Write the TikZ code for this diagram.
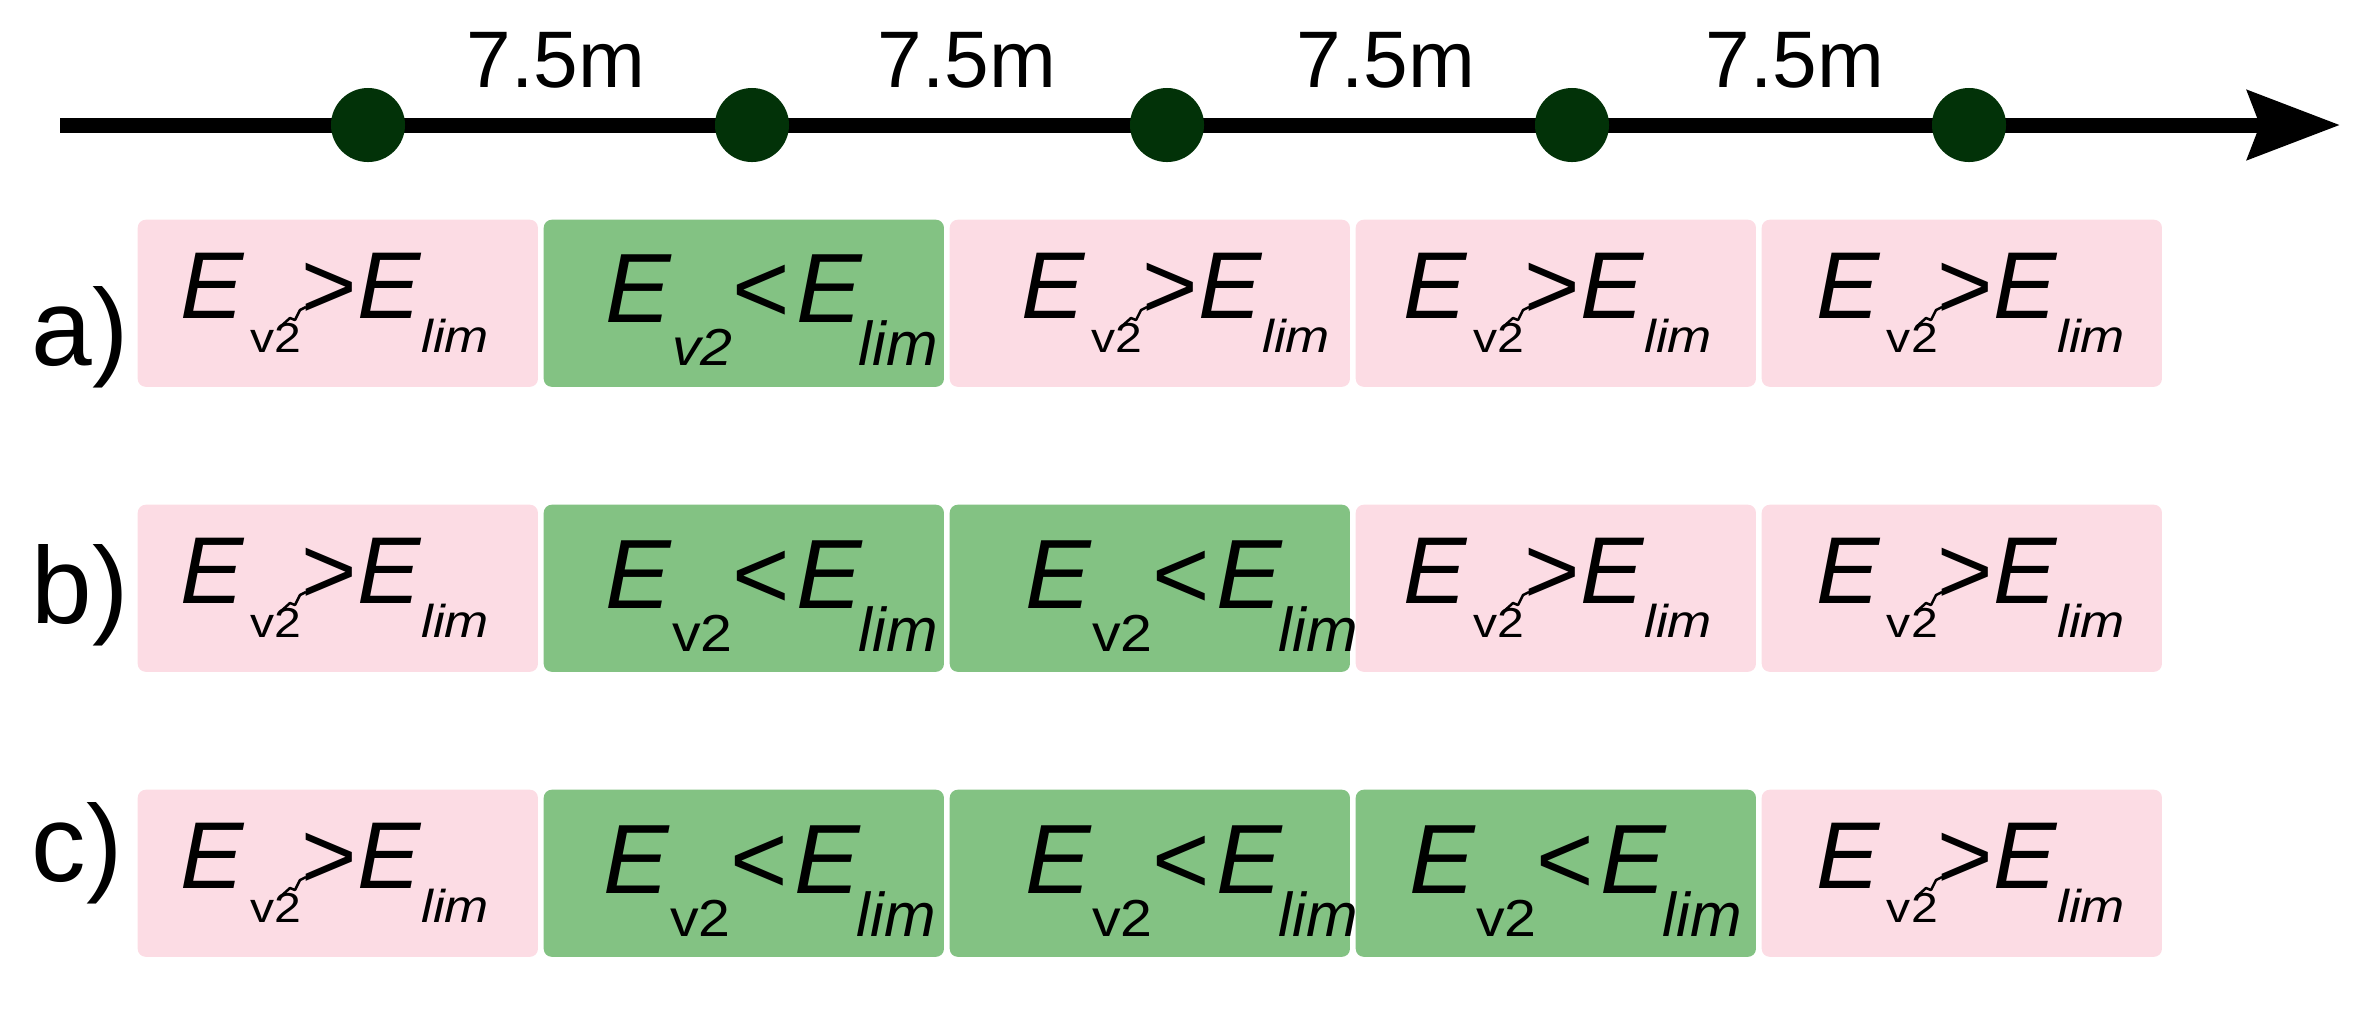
\documentclass[tikz,border=0pt]{standalone}
\usepackage{fontspec}
\setmainfont{Liberation Sans}
\usepackage{graphicx}
\usetikzlibrary{arrows.meta}
\newdimen\pxu \pxu=0.01cm
\definecolor{pinkfill}{RGB}{252,220,228}
\definecolor{greenfill}{RGB}{131,194,131}
\definecolor{dotgreen}{RGB}{2,50,8}
\newcommand\pinktxt{{\fontsize{27pt}{30pt}\selectfont
\textit{E}\kern6\pxu\raisebox{-34\pxu}{\scalebox{1.15}[1]{\fontsize{11.9pt}{13pt}\selectfont v2}}%
>\textit{E}\kern0\pxu\raisebox{-34\pxu}{\scalebox{1.15}[1]{\fontsize{13.1pt}{15pt}\selectfont\itshape lim}}}}
\newcommand\greentxt[1]{{\fontsize{28pt}{30pt}\selectfont
\textit{E}\kern-16\pxu\raisebox{-43\pxu}{\scalebox{1.1}[1]{\fontsize{14.8pt}{16pt}\selectfont#1 v2}}%
<\kern6\pxu\textit{E}\kern-4\pxu\raisebox{-43\pxu}{\fontsize{17.6pt}{19pt}\selectfont\itshape lim}}}
\newcommand\squigfor[1]{\draw[squig, shift={(#1.base west)}] (100,9) -- (110,0) -- (115,2) -- (120,-8) -- (126,-11);}
\begin{document}
\begin{tikzpicture}[x=0.01cm,y=-0.01cm,
  cellbox/.style={rectangle, rounded corners=0.08cm, minimum width=4cm, minimum height=1.67cm, inner sep=0, anchor=north west},
  pinkcell/.style={cellbox, fill=pinkfill},
  greencell/.style={cellbox, fill=greenfill},
  celltext/.style={anchor=base west, inner sep=0},
  stopdot/.style={circle, fill=dotgreen, minimum size=0.74cm, inner sep=0},
  axisline/.style={line width=0.15cm, -{Stealth[length=0.92cm,width=0.68cm,inset=0.12cm]}},
  distlabel/.style={anchor=base, inner sep=0, font=\fontsize{22.8pt}{26pt}\selectfont},
  rowlabel/.style={anchor=base west, inner sep=0, font=\fontsize{31pt}{34pt}\selectfont},
  squig/.style={line width=0.025cm, line join=round}]
\useasboundingbox (0,0) rectangle (2379,1008);
% axis
\coordinate (axs) at (60,125);
\coordinate (axe) at (2340,125);
\draw[axisline] (axs) -- (axe);
\node[stopdot] (d1) at (368,125) {};
\node[stopdot] (d2) at (752,125) {};
\node[stopdot] (d3) at (1167,125) {};
\node[stopdot] (d4) at (1572,125) {};
\node[stopdot] (d5) at (1969,125) {};
\node[distlabel] (l1) at (556,87) {7.5m};
\node[distlabel] (l2) at (967,87) {7.5m};
\node[distlabel] (l3) at (1386,87) {7.5m};
\node[distlabel] (l4) at (1795,87) {7.5m};
% row labels
\node[rowlabel] (ra) at (31,365) {a)};
\node[rowlabel] (rb) at (31,623) {b)};
\node[rowlabel] (rc) at (31,881) {c)};
% row a
\node[pinkcell] (a1) at (137,219) {};
\node[greencell] (a2) at (543,219) {};
\node[pinkcell] (a3) at (949,219) {};
\node[pinkcell] (a4) at (1355,219) {};
\node[pinkcell] (a5) at (1761,219) {};
% row b
\node[pinkcell] (b1) at (137,504) {};
\node[greencell] (b2) at (543,504) {};
\node[greencell] (b3) at (949,504) {};
\node[pinkcell] (b4) at (1355,504) {};
\node[pinkcell] (b5) at (1761,504) {};
% row c
\node[pinkcell] (c1) at (137,789) {};
\node[greencell] (c2) at (543,789) {};
\node[greencell] (c3) at (949,789) {};
\node[greencell] (c4) at (1355,789) {};
\node[pinkcell] (c5) at (1761,789) {};
% texts row a
\node[celltext] (ta1) at (180,318) {\pinktxt};
\node[celltext] (ta2) at (605,322) {\greentxt{\itshape}};
\node[celltext] (ta3) at (1021,318) {\pinktxt};
\node[celltext] (ta4) at (1403,318) {\pinktxt};
\node[celltext] (ta5) at (1816,318) {\pinktxt};
% texts row b
\node[celltext] (tb1) at (180,603) {\pinktxt};
\node[celltext] (tb2) at (605,608) {\greentxt{}};
\node[celltext] (tb3) at (1025,608) {\greentxt{}};
\node[celltext] (tb4) at (1403,603) {\pinktxt};
\node[celltext] (tb5) at (1816,603) {\pinktxt};
% texts row c
\node[celltext] (tc1) at (180,888) {\pinktxt};
\node[celltext] (tc2) at (603,893) {\greentxt{}};
\node[celltext] (tc3) at (1025,893) {\greentxt{}};
\node[celltext] (tc4) at (1409,893) {\greentxt{}};
\node[celltext] (tc5) at (1816,888) {\pinktxt};
% squiggles in pink cells
\squigfor{ta1}\squigfor{ta3}\squigfor{ta4}\squigfor{ta5}
\squigfor{tb1}\squigfor{tb4}\squigfor{tb5}
\squigfor{tc1}\squigfor{tc5}
\end{tikzpicture}
\end{document}
